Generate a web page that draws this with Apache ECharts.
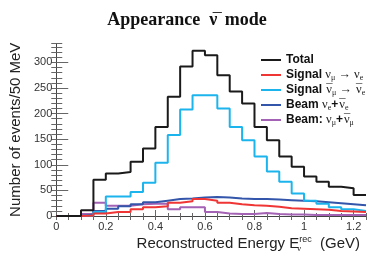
<!DOCTYPE html>
<html><head><meta charset="utf-8">
<script src="https://cdn.jsdelivr.net/npm/echarts@6/dist/echarts.min.js"></script>
<style>html,body{margin:0;padding:0;background:#fff}#c{width:374px;height:265px}</style>
</head><body><div id="c"></div>
<script>
// Bin edges (GeV), 50 MeV bins
const binEdges = [0,0.05,0.1,0.15,0.2,0.25,0.3,0.35,0.4,0.45,0.5,0.55,0.6,0.65,0.7,0.75,0.8,0.85,0.9,0.95,1.0,1.05,1.1,1.15,1.2,1.25];
// Events per bin
const total        = [0,0,11,71,83,86,106,132,174,233,292,323,314,275,243,220,174,148,116,96,77,67,57,54,41];
const signalNuMu   = [0,0,1,5,8,8,13,17,19,26,29,33,30,26,23,21,20,18,15,14,13,12,10,9,8];
const signalAnti   = [0,0,1,8,38,38,47,65,104,158,208,236,236,210,174,148,116,87,67,44,30,24,17,13,10];
const beamNue      = [0,0,3,10,14,19,23,27,30,33,34,36,37,36,34,33,33,32,31,30,29,27,25,23,21];
const beamNumu     = [0,0,4,26,20,20,23,24,24,13,17,17,8,5,4,4,6,4,3,3,2,2,2,2,2];
const yTicks = [0,50,100,150,200,250,300];
const xTicks = [0,0.2,0.4,0.6,0.8,1,1.2];

function hist(vals){
  const d = vals.map((v,i)=>[binEdges[i], v]);
  d.push([binEdges[binEdges.length-1], vals[vals.length-1]]);
  return d;
}
const SANS = 'Liberation Sans';
const SERIF = 'Liberation Serif';
const chart = echarts.init(document.getElementById('c'), null, {renderer:'canvas'});
const axLine = {show:true, lineStyle:{color:'#444', width:1}};
const tickCol = '#666';
const series = [
  {name:'Total', data:hist(total), color:'#1a1a1a'},
  {name:'sig1', data:hist(signalNuMu), color:'#f03535'},
  {name:'sig2', data:hist(signalAnti), color:'#1cb4ec'},
  {name:'beam1', data:hist(beamNue), color:'#3355aa'},
  {name:'beam2', data:hist(beamNumu), color:'#a462b4'}
].map(s=>({type:'line', step:'end', name:s.name, data:s.data, symbol:'none',
  xAxisIndex:0, yAxisIndex:0, color:s.color, lineStyle:{width:2, color:s.color}, z:3}));
series.reverse();

const NB = '{ob|\u00AF}{s|ν}'; // nu with bar
const legendText = {
  'Total':'{b|Total}',
  'sig1':'{b|Signal }{s|ν}{sub|μ}{s| → ν}{sub|e}',
  'sig2':'{b|Signal }'+NB+'{sub|μ}{s| → }'+NB+'{sub|e}',
  'beam1':'{b|Beam }{s|ν}{sub|e}{b|+}'+NB+'{sub|e}',
  'beam2':'{b|Beam: }{s|ν}{sub|μ}{b|+}'+NB+'{sub|μ}'
};

chart.setOption({
  animation:false,
  backgroundColor:'#fff',
  title:{text:'{t|Appearance  ν}{tb|\u00AF}{t| mode}', left:'center', top:4,
    textStyle:{fontFamily:SERIF, fontWeight:'bold', fontSize:18, color:'#111',
      rich:{t:{fontFamily:SERIF, fontWeight:'bold', fontSize:18, color:'#111', lineHeight:22},
            tb:{fontFamily:SERIF, fontWeight:'normal', fontSize:18, color:'#111', width:0.01, align:'right', lineHeight:22, padding:[3,3,0,0]}}}},
  grid:{left:52.5, right:8, top:43.5, bottom:49, containLabel:false},
  legend:{orient:'vertical', left:256, top:48, itemGap:1, itemWidth:20, itemHeight:2, icon:'rect',
    data:['Total','sig1','sig2','beam1','beam2'],
    formatter:n=>legendText[n],
    textStyle:{fontSize:12, lineHeight:14, color:'#111',
      rich:{
        b:{fontFamily:SANS, fontWeight:'bold', fontSize:12, color:'#111', lineHeight:14},
        s:{fontFamily:SERIF, fontSize:12.5, color:'#222', lineHeight:14},
        ob:{fontFamily:SERIF, fontSize:12.5, color:'#222', lineHeight:14, width:0.01, align:'left', padding:[0,0,0,1]},
        sub:{fontFamily:SERIF, fontSize:8, color:'#222', verticalAlign:'bottom', lineHeight:10, padding:[4,0,0,0]}
      }}},
  xAxis:[
    {type:'value', min:0, max:1.25, interval:0.2, position:'bottom',
     axisLine:axLine, axisTick:{inside:true, length:6, lineStyle:{color:tickCol}},
     axisLabel:{showMaxLabel:false, fontFamily:SANS, fontSize:11, color:'#333', margin:5,
       formatter:v=> xTicks.indexOf(Math.round(v*10)/10)>=0 ? String(Math.round(v*10)/10) : ''},
     splitLine:{show:false},
     name:'{n|Reconstructed Energy E}{sb|ν}{sp|rec}{n|  (GeV)}', nameLocation:'end', nameGap:-6,
     nameTextStyle:{align:'right', verticalAlign:'top', padding:[19,0,0,0],
       rich:{n:{fontFamily:SANS, fontSize:15, color:'#222', lineHeight:18},
             sb:{fontFamily:SERIF, fontSize:9, color:'#222', width:0.01, align:'left', verticalAlign:'bottom', lineHeight:10, padding:[6,0,0,0]},
             sp:{fontFamily:SANS, fontSize:9, color:'#222', verticalAlign:'top', lineHeight:10}}}},
    {type:'value', min:0, max:1.25, interval:0.05, position:'bottom',
     axisLine:axLine, axisTick:{inside:true, length:3, lineStyle:{color:tickCol}},
     axisLabel:{show:false}, splitLine:{show:false}},
    {type:'value', min:0, max:1.25, interval:0.05, position:'top',
     axisLine:axLine, axisTick:{inside:true, length:4, lineStyle:{color:tickCol}},
     axisLabel:{show:false}, splitLine:{show:false}}
  ],
  yAxis:[
    {type:'value', min:0, max:337, interval:50, position:'left',
     axisLine:axLine, axisTick:{inside:true, length:12, lineStyle:{color:tickCol}},
     axisLabel:{showMaxLabel:false, fontFamily:SANS, fontSize:11, color:'#333', margin:4,
       formatter:v=> yTicks.indexOf(v)>=0 ? String(v) : ''},
     splitLine:{show:false},
     name:'Number of events/50 MeV', nameLocation:'middle', nameGap:33,
     nameTextStyle:{fontFamily:SANS, fontSize:15, color:'#222'}},
    {type:'value', min:0, max:337, interval:10, position:'left',
     axisLine:axLine, axisTick:{inside:true, length:6, lineStyle:{color:tickCol}},
     axisLabel:{show:false}, splitLine:{show:false}},
    {type:'value', min:0, max:337, interval:10, position:'right',
     axisLine:axLine, axisTick:{inside:true, length:5, lineStyle:{color:tickCol}},
     axisLabel:{show:false}, splitLine:{show:false}}
  ],
  series:series
});
</script></body></html>
